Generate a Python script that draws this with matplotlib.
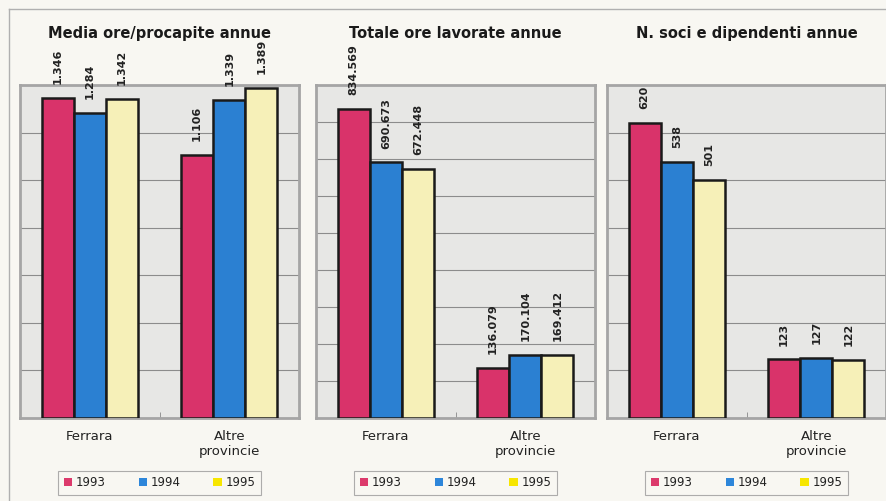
import numpy as np
import matplotlib.pyplot as plt
from matplotlib.patches import Patch
from matplotlib.lines import Line2D

categories = ['Ferrara', 'Altre\nprovincie']
years = ['1993', '1994', '1995']

media_ore = [[1346, 1106], [1284, 1339], [1342, 1389]]
totale_ore = [[834569, 136079], [690673, 170104], [672448, 169412]]
n_soci = [[620, 123], [538, 127], [501, 122]]

titles = ['Media ore/procapite annue', 'Totale ore lavorate annue', 'N. soci e dipendenti annue']
ymax = [1400, 900000, 700]
ystep = [200, 100000, 100]

bar_colors = ['#d9336a', '#2b80d2', '#f6f0b8']
legend_colors = ['#dc3a6c', '#2d86da', '#f7e600']
bg = '#f8f7f2'

def fmt(v):
  # italian thousands separator
  return '{:,}'.format(v).replace(',', '.')

fig = plt.figure(figsize=(8.86, 5.01), dpi=100, facecolor=bg)

# outer frame (top and left lines)
fig.add_artist(Line2D([9/886, 9/886], [0, 1 - 9/501], color='#b0b0b0', lw=1))
fig.add_artist(Line2D([9/886, 1], [1 - 9/501, 1 - 9/501], color='#b0b0b0', lw=1))

lefts = [20, 316, 607]
data = [media_ore, totale_ore, n_soci]
x = np.arange(len(categories))
w = 0.23

for i in range(3):
  ax = fig.add_axes([lefts[i]/886, 1 - 418/501, 279/886, 333/501])
  ax.set_facecolor('#e7e7e5')
  for s in ax.spines.values():
    s.set_color('#a5a5a5')
    s.set_linewidth(2)
  ax.set_xlim(-0.5, 1.5)
  ax.set_ylim(0, ymax[i])
  ax.set_yticks(np.arange(0, ymax[i] + 1, ystep[i]))
  ax.yaxis.grid(True, color='#8c8c8c', lw=0.8)
  ax.set_axisbelow(True)
  ax.tick_params(axis='y', left=False, labelleft=False)
  ax.set_xticks(x)
  ax.set_xticklabels(categories, fontsize=9.5, color='#222222', linespacing=1.15)
  ax.tick_params(axis='x', length=0, pad=9)
  ax.set_xticks([0.5], minor=True)
  ax.tick_params(axis='x', which='minor', direction='in', length=4, color='#888888')

  for j in range(3):
    vals = data[i][j]
    bars = ax.bar(x + (j - 1) * w, vals, w, color=bar_colors[j], edgecolor='#1a1a1a',
                  linewidth=1.8, zorder=3)
    for b, v in zip(bars, vals):
      ax.annotate(fmt(v), (b.get_x() + b.get_width() / 2, v), xytext=(0, 10),
                  textcoords='offset points', rotation=90, ha='center', va='bottom',
                  fontsize=8, fontweight='bold', color='#222222', annotation_clip=False)

  ax.text(0.5, 1.156, titles[i], transform=ax.transAxes, ha='center', va='center',
          fontsize=10.5, fontweight='bold', color='#1a1a1a')

  handles = [Patch(facecolor=c, edgecolor='none') for c in legend_colors]
  leg = ax.legend(handles, years, loc='center', bbox_to_anchor=(0.5, -0.195), ncol=3,
                  frameon=True, fancybox=False, edgecolor='#9a9a9a', facecolor=bg,
                  fontsize=8.5, handlelength=0.7, handleheight=0.7, handletextpad=0.3,
                  columnspacing=2.8, borderpad=0.5)
  leg.get_frame().set_linewidth(0.8)
  for t in leg.get_texts():
    t.set_color('#222222')

plt.savefig('out.png', dpi=100, facecolor=bg)
